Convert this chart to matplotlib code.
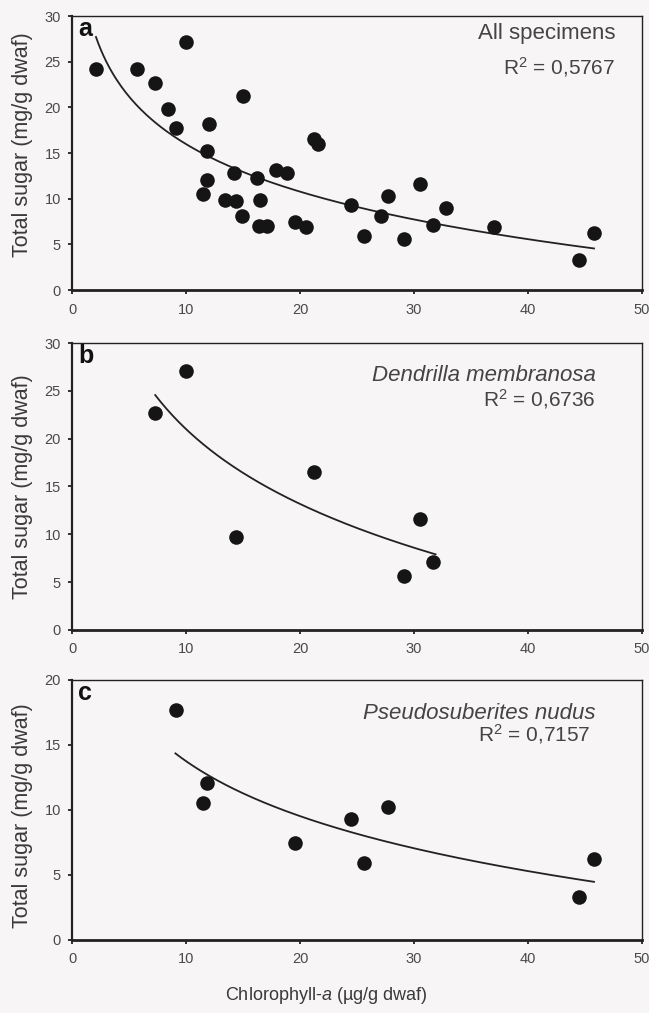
import matplotlib.pyplot as plt
import numpy as np

plt.rcParams['font.family'] = ['Liberation Sans', 'DejaVu Sans']
plt.rcParams['mathtext.fontset'] = 'custom'
plt.rcParams['mathtext.rm'] = 'Liberation Sans'
plt.rcParams['mathtext.it'] = 'Liberation Sans:italic'

# Panel b: Dendrilla membranosa
b_chl = [7.3, 10.0, 14.4, 21.2, 29.1, 30.5, 31.7]
b_sugar = [22.7, 27.1, 9.7, 16.5, 5.6, 11.6, 7.15]

# Panel c: Pseudosuberites nudus
c_chl = [9.1, 11.45, 11.8, 19.6, 24.5, 25.6, 27.7, 44.5, 45.8]
c_sugar = [17.7, 10.5, 12.1, 7.44, 9.28, 5.95, 10.26, 3.33, 6.23]

# other specimens (only in panel a)
o_chl = [2.1, 5.7, 8.4, 15.0, 12.0, 11.8, 14.2, 13.45, 14.9, 16.2, 16.5,
         16.4, 17.1, 17.9, 18.9, 20.5, 21.6, 27.1, 32.8, 37.0]
o_sugar = [24.2, 24.2, 19.8, 21.2, 18.2, 15.2, 12.8, 9.85, 8.1, 12.3, 9.85,
           7.0, 7.0, 13.1, 12.8, 6.9, 16.0, 8.1, 9.0, 6.9]

a_chl = b_chl + c_chl + o_chl
a_sugar = b_sugar + c_sugar + o_sugar

# logarithmic trendlines y = slope*ln(x) + intercept
fit_a = (-7.51, 33.27, 2.1, 45.8)
fit_b = (-11.29, 47.0, 7.3, 31.9)
fit_c = (-6.10, 27.8, 9.07, 45.8)

r2_labels = ['R$^2$ = 0,5767', 'R$^2$ = 0,6736', 'R$^2$ = 0,7157']
titles = ['All specimens', 'Dendrilla membranosa', 'Pseudosuberites nudus']
letters = ['a', 'b', 'c']
ymaxes = [30, 30, 20]

bg = '#f7f5f6'
fig = plt.figure(figsize=(6.49, 10.13), dpi=100, facecolor=bg)
positions = [
    [0.111, 0.7137, 0.878, 0.2705],
    [0.111, 0.3781, 0.878, 0.2833],
    [0.111, 0.0721, 0.878, 0.2567],
]
data = [(a_chl, a_sugar, fit_a), (b_chl, b_sugar, fit_b), (c_chl, c_sugar, fit_c)]
# text anchor positions in axes fraction (x right edge, title y, r2 y)
text_pos = [(0.953, 0.935, 0.812), (0.919, 0.886, 0.805), (0.918, 0.870, 0.790)]
ylabel_y = [0.53, 0.5, 0.48]

for i, (xs, ys, fit) in enumerate(data):
    ax = fig.add_axes(positions[i])
    ax.set_facecolor(bg)
    ax.scatter(xs, ys, s=110, color='#151515', zorder=3, linewidths=0)
    slope, icpt, x0, x1 = fit
    xx = np.linspace(x0, x1, 200)
    ax.plot(xx, slope * np.log(xx) + icpt, color='#222222', lw=1.3, zorder=2)

    ax.set_xlim(0, 50)
    ax.set_ylim(0, ymaxes[i])
    ax.set_xticks(range(0, 51, 10))
    ax.set_yticks(range(0, ymaxes[i] + 1, 5))
    ax.tick_params(direction='out', length=3, width=1.3, color='#222222',
                   labelsize=10.5, labelcolor='#4a4a4a', pad=6)
    ax.tick_params(axis='y', pad=5)
    for side, lw in [('left', 1.6), ('bottom', 2.0), ('top', 1.0), ('right', 1.0)]:
        ax.spines[side].set_linewidth(lw)
        ax.spines[side].set_color('#222222')

    ax.set_ylabel('Total sugar (mg/g dwaf)', fontsize=15.5, color='#3a3a3a')
    ax.yaxis.set_label_coords(-0.069, ylabel_y[i])

    ax.text(0.011, 0.995, letters[i], transform=ax.transAxes, fontsize=18,
            fontweight='bold', va='top', ha='left', color='#111111')
    style = 'normal' if i == 0 else 'italic'
    tx, ty, ry = text_pos[i]
    ax.text(tx, ty, titles[i], transform=ax.transAxes, fontsize=16,
            style=style, ha='right', va='center', color='#444444')
    ax.text(tx if i < 2 else tx - 0.008, ry, r2_labels[i], transform=ax.transAxes,
            fontsize=15, ha='right', va='center', color='#444444')

    if i == 2:
        ax.set_xlabel('Chlorophyll-$\\it{a}$ (µg/g dwaf)', fontsize=13,
                      color='#3a3a3a')
        ax.xaxis.set_label_coords(0.446, -0.175)

fig.savefig('out.png', dpi=100, facecolor=bg)
